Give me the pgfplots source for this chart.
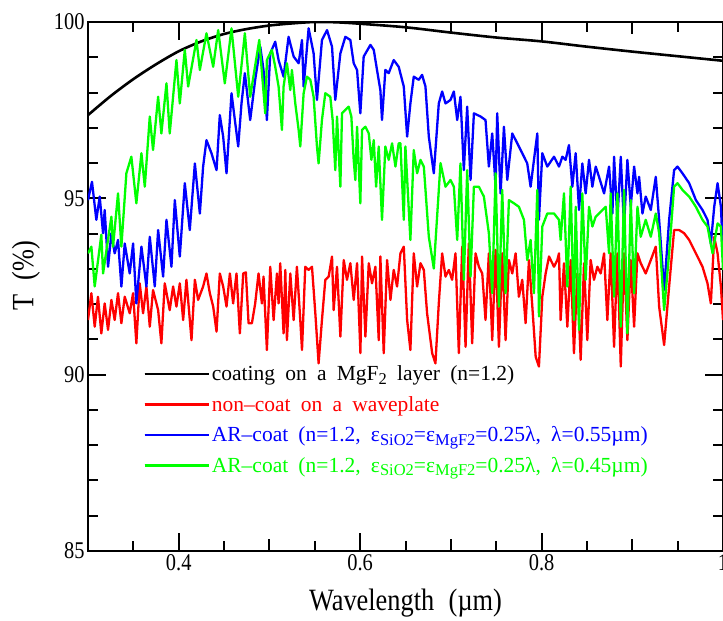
\documentclass[border=0pt]{standalone}
\usepackage{fontspec}
\setmainfont{Liberation Serif}[WordSpace=1.9]
\newfontfamily\cf{Liberation Serif}[FakeStretch=0.85,WordSpace=2.2]
\newcommand\sub[1]{\raisebox{-0.35ex}{\fontsize{16.5}{17}\selectfont #1}}
\usepackage{pgfplots}
\pgfplotsset{compat=1.18}
\begin{document}
\begin{tikzpicture}
\begin{axis}[
  scale only axis, width=635pt, height=529pt,
  xmin=0.3, xmax=1.0, ymin=85, ymax=100,
  xtick={0.4,0.6,0.8,1}, xticklabels={0.4,0.6,0.8,1},
  ytick={85,90,95,100}, yticklabels={85,90,95,100},
  minor xtick={0.35,0.45,0.55,0.65,0.75,0.85,0.95},
  minor ytick={86,87,88,89,91,92,93,94,96,97,98,99},
  extra x ticks={0.5,0.7,0.9}, extra x tick labels={},
  extra x tick style={major tick length=12pt},
  tick align=inside,
  major tick length=18pt, minor tick length=10pt,
  tick style={black, line width=2pt},
  axis line style={line width=2.6pt},
  /pgf/number format/assume math mode=true,
  tick label style={font=\cf\fontsize{24}{28}\selectfont},
  xlabel={Wavelength (µm)},
  ylabel={T (\%)},
  every axis x label/.style={at={(rel axis cs:0.5,0)}, yshift=-52pt, anchor=center, font=\cf\fontsize{31}{35}\selectfont},
  every axis y label/.style={at={(rel axis cs:0,0.52)}, xshift=-62pt, rotate=90, anchor=center, font=\cf\fontsize{31}{35}\selectfont},
  legend cell align=left,
  legend style={draw=none, fill=none, at={(rel axis cs:0.082,0.358)}, anchor=north west,
    font=\fontsize{21.5}{25}\selectfont, row sep=10pt},
  legend image code/.code={\draw[#1] (0pt,0pt) -- (55pt,0pt); \path (0pt,0pt) -- (64pt,0pt);},
  every axis plot/.append style={line width=2.3pt, line join=round, no markers},
]
\coordinate (sw) at (rel axis cs:0,0);
\coordinate (ne) at (rel axis cs:1,1);

\addplot[black, smooth, line width=2.6pt] table {
0.300 97.36
0.325 97.90
0.350 98.38
0.375 98.80
0.400 99.17
0.425 99.45
0.450 99.66
0.475 99.80
0.500 99.90
0.525 99.96
0.550 100.00
0.575 99.99
0.600 99.95
0.650 99.85
0.700 99.70
0.750 99.56
0.800 99.45
0.850 99.30
0.900 99.16
0.950 99.03
1.000 98.90
};
\addlegendentry{coating on a MgF\sub{2} layer (n=1.2)}

\addplot[red] table {
0.3000 91.55
0.3037 92.31
0.3074 91.36
0.3110 92.21
0.3147 91.17
0.3184 92.02
0.3221 91.27
0.3258 92.12
0.3294 91.55
0.3331 92.31
0.3368 91.46
0.3405 92.21
0.3460 91.74
0.3497 92.31
0.3533 90.89
0.3570 92.59
0.3607 91.74
0.3644 92.50
0.3681 91.36
0.3717 92.40
0.3773 91.83
0.3809 90.89
0.3846 92.59
0.3901 91.83
0.3938 92.50
0.3975 91.93
0.4012 92.59
0.4049 91.55
0.4085 92.69
0.4141 90.98
0.4178 92.69
0.4214 92.12
0.4269 92.50
0.4306 92.87
0.4343 92.31
0.4380 91.93
0.4417 91.22
0.4453 92.87
0.4490 92.50
0.4527 91.93
0.4564 92.87
0.4600 92.02
0.4637 92.87
0.4674 91.17
0.4711 92.87
0.4740 92.90
0.4770 91.46
0.4807 91.46
0.4843 92.02
0.4880 92.87
0.4917 92.02
0.4935 92.78
0.4972 90.70
0.5009 93.06
0.5046 91.55
0.5083 92.87
0.5101 92.02
0.5119 93.16
0.5156 91.17
0.5175 92.97
0.5193 90.98
0.5230 92.87
0.5267 91.55
0.5303 93.06
0.5340 91.55
0.5359 90.70
0.5395 93.06
0.5432 92.97
0.5469 93.06
0.5506 91.74
0.5542 90.32
0.5579 91.55
0.5616 92.69
0.5653 92.78
0.5690 93.35
0.5708 91.83
0.5745 93.06
0.5782 91.08
0.5819 93.25
0.5855 92.69
0.5892 93.16
0.5929 92.12
0.5966 93.16
0.6003 90.61
0.6021 93.35
0.6058 91.08
0.6095 93.16
0.6131 92.59
0.6168 93.06
0.6205 90.98
0.6223 93.35
0.6260 90.61
0.6297 93.25
0.6334 92.12
0.6370 92.97
0.6407 92.50
0.6444 93.44
0.6481 93.63
0.6518 91.55
0.6554 90.70
0.6591 93.44
0.6628 92.50
0.6665 93.16
0.6702 92.97
0.6738 91.74
0.6794 90.61
0.6830 90.32
0.6867 92.02
0.6904 93.44
0.6941 92.78
0.6978 92.97
0.7014 92.69
0.7051 93.44
0.7088 90.61
0.7125 93.63
0.7162 90.79
0.7198 93.72
0.7235 90.89
0.7272 93.44
0.7309 93.06
0.7346 92.87
0.7382 91.55
0.7419 93.44
0.7456 90.98
0.7493 93.54
0.7530 90.79
0.7566 93.44
0.7603 90.98
0.7640 93.25
0.7677 92.87
0.7714 93.44
0.7750 92.21
0.7787 92.69
0.7824 91.46
0.7861 93.25
0.7898 91.93
0.7935 90.51
0.7971 90.23
0.8008 92.21
0.8045 92.87
0.8082 93.35
0.8137 93.06
0.8174 93.25
0.8192 93.44
0.8210 91.55
0.8247 93.16
0.8284 91.36
0.8321 93.25
0.8357 90.61
0.8394 92.87
0.8431 90.42
0.8468 93.16
0.8504 90.98
0.8541 93.25
0.8578 92.69
0.8615 93.06
0.8652 92.87
0.8689 93.44
0.8725 91.55
0.8762 93.44
0.8799 90.79
0.8836 93.44
0.8873 90.23
0.8909 93.44
0.8946 90.98
0.8983 93.25
0.9020 91.36
0.9057 93.44
0.9093 93.16
0.9148 92.87
0.9204 93.25
0.9259 93.63
0.9296 91.93
0.9351 90.84
0.9406 92.50
0.9461 94.10
0.9517 94.10
0.9572 94.01
0.9627 93.82
0.9701 93.44
0.9774 93.06
0.9829 92.59
0.9866 92.02
0.9903 93.91
0.9940 93.44
0.9977 92.50
1.0000 91.55
};
\addlegendentry{\textcolor{red}{non--coat on a waveplate}}

\addplot[blue] table {
0.3000 94.95
0.3044 95.47
0.3092 94.39
0.3129 95.05
0.3166 94.01
0.3184 94.67
0.3221 93.06
0.3258 94.01
0.3294 93.44
0.3331 93.82
0.3368 92.50
0.3405 93.72
0.3460 92.87
0.3497 93.72
0.3533 92.02
0.3589 93.63
0.3644 92.50
0.3681 93.91
0.3736 92.50
0.3773 94.10
0.3828 92.78
0.3865 94.39
0.3920 93.06
0.3957 94.95
0.4012 93.35
0.4067 95.43
0.4122 94.10
0.4178 95.99
0.4233 94.57
0.4269 95.90
0.4306 96.65
0.4361 96.28
0.4417 95.80
0.4453 97.36
0.4490 96.75
0.4527 95.71
0.4582 97.98
0.4619 97.22
0.4656 96.47
0.4692 97.69
0.4729 98.55
0.4788 97.22
0.4843 98.36
0.4899 99.30
0.4935 98.64
0.4972 97.22
0.5009 99.11
0.5064 99.44
0.5101 98.92
0.5156 98.45
0.5211 99.58
0.5267 99.02
0.5322 98.83
0.5359 99.49
0.5377 98.17
0.5432 99.82
0.5487 99.11
0.5524 97.79
0.5579 99.49
0.5635 99.77
0.5690 99.30
0.5726 97.79
0.5782 99.11
0.5837 99.58
0.5892 99.49
0.5929 98.83
0.5966 98.64
0.6002 97.41
0.6039 99.02
0.6113 99.35
0.6150 99.21
0.6186 98.64
0.6223 98.07
0.6241 97.22
0.6278 98.64
0.6315 98.55
0.6370 98.92
0.6425 98.73
0.6481 98.17
0.6518 96.75
0.6554 97.69
0.6591 98.45
0.6646 98.36
0.6683 98.50
0.6720 98.17
0.6757 96.75
0.6812 95.71
0.6867 97.69
0.6904 98.03
0.6941 97.69
0.6996 97.79
0.7033 98.03
0.7070 97.22
0.7106 97.88
0.7143 95.80
0.7180 97.60
0.7217 95.52
0.7254 97.41
0.7327 97.32
0.7382 97.22
0.7419 95.90
0.7456 96.84
0.7493 95.33
0.7511 97.41
0.7548 95.14
0.7585 97.03
0.7622 95.52
0.7677 96.84
0.7732 96.56
0.7787 96.28
0.7842 95.99
0.7879 95.33
0.7916 96.09
0.7953 96.84
0.7971 94.39
0.8008 96.28
0.8063 95.90
0.8137 96.18
0.8192 95.90
0.8229 96.18
0.8265 96.09
0.8302 96.51
0.8339 95.33
0.8376 96.28
0.8413 94.67
0.8449 95.99
0.8486 95.14
0.8523 96.09
0.8560 95.33
0.8597 95.90
0.8633 95.61
0.8689 95.14
0.8744 95.90
0.8781 94.57
0.8799 96.18
0.8836 94.39
0.8873 96.18
0.8909 94.20
0.8946 96.09
0.8983 94.76
0.9020 95.90
0.9057 95.14
0.9075 95.61
0.9112 94.57
0.9148 95.05
0.9204 94.67
0.9259 95.61
0.9296 94.39
0.9351 92.40
0.9406 94.39
0.9461 95.80
0.9498 95.90
0.9553 95.71
0.9627 95.43
0.9701 94.95
0.9774 94.67
0.9829 94.39
0.9866 93.72
0.9903 94.76
0.9940 95.43
0.9977 94.76
1.0000 93.44
};
\addlegendentry{\textcolor{blue}{AR--coat (n=1.2, ε\sub{SiO2}=ε\sub{MgF2}=0.25λ, λ=0.55µm)}}

\addplot[green] table {
0.3000 93.44
0.3037 93.63
0.3074 92.50
0.3147 93.97
0.3166 92.87
0.3258 94.48
0.3276 93.63
0.3331 95.14
0.3368 93.63
0.3423 95.71
0.3478 96.18
0.3533 94.86
0.3589 96.28
0.3626 95.33
0.3681 97.32
0.3717 96.37
0.3773 97.88
0.3809 96.84
0.3865 98.26
0.3901 96.84
0.3975 98.92
0.4012 97.69
0.4067 99.21
0.4104 98.17
0.4196 99.49
0.4233 98.64
0.4306 99.68
0.4380 98.73
0.4435 99.77
0.4508 98.26
0.4582 99.82
0.4656 97.88
0.4729 99.68
0.4788 97.88
0.4888 99.49
0.4954 97.41
0.4972 98.92
0.5027 99.21
0.5064 98.73
0.5101 98.17
0.5138 96.94
0.5156 98.17
0.5193 98.83
0.5230 98.07
0.5248 98.64
0.5285 97.69
0.5322 96.94
0.5340 96.47
0.5377 97.98
0.5414 98.45
0.5451 98.36
0.5487 97.88
0.5524 96.47
0.5542 95.99
0.5579 97.22
0.5616 97.98
0.5671 97.88
0.5697 97.22
0.5726 95.80
0.5745 97.32
0.5782 95.33
0.5800 97.41
0.5837 97.51
0.5874 97.60
0.5903 97.32
0.5929 96.09
0.5947 95.52
0.5966 97.03
0.6002 94.86
0.6021 96.94
0.6058 97.03
0.6095 96.84
0.6124 96.09
0.6150 96.65
0.6176 95.33
0.6205 96.47
0.6241 94.39
0.6278 96.47
0.6315 96.09
0.6352 96.56
0.6389 95.90
0.6425 96.56
0.6444 96.56
0.6481 94.39
0.6499 96.47
0.6554 93.82
0.6591 96.37
0.6628 95.71
0.6665 96.09
0.6702 95.90
0.6757 93.91
0.6812 93.01
0.6886 96.00
0.6941 95.33
0.6996 95.52
0.7033 95.33
0.7070 93.82
0.7106 95.99
0.7143 92.69
0.7180 95.80
0.7217 92.78
0.7254 95.33
0.7309 95.33
0.7364 95.05
0.7419 94.01
0.7456 92.31
0.7493 95.71
0.7530 91.93
0.7566 95.24
0.7603 92.31
0.7640 94.95
0.7695 94.86
0.7750 94.76
0.7806 94.39
0.7842 93.25
0.7879 93.82
0.7916 92.31
0.7953 95.24
0.7971 91.65
0.8008 94.20
0.8063 94.57
0.8137 94.57
0.8192 94.39
0.8210 93.82
0.8247 95.14
0.8284 92.50
0.8321 95.33
0.8357 91.55
0.8376 94.76
0.8413 91.27
0.8449 95.14
0.8486 92.69
0.8523 94.76
0.8560 94.20
0.8597 94.48
0.8633 94.57
0.8707 94.76
0.8744 93.44
0.8762 95.14
0.8799 92.21
0.8836 95.14
0.8873 91.36
0.8909 95.24
0.8946 91.17
0.8983 94.95
0.9020 92.31
0.9057 94.76
0.9093 93.91
0.9148 94.39
0.9204 93.91
0.9259 94.57
0.9296 94.01
0.9351 91.83
0.9406 93.44
0.9461 95.33
0.9498 95.43
0.9553 95.24
0.9627 95.05
0.9701 94.76
0.9774 94.39
0.9829 94.20
0.9885 93.44
0.9940 94.29
0.9977 94.20
1.0000 92.97
};
\addlegendentry{\textcolor{green}{AR--coat (n=1.2, ε\sub{SiO2}=ε\sub{MgF2}=0.25λ, λ=0.45µm)}}
\end{axis}
\pgfresetboundingbox
\path[use as bounding box] ([shift={(-88pt,-69pt)}]sw) rectangle ([shift={(0pt,22pt)}]ne);
\end{tikzpicture}
\end{document}
